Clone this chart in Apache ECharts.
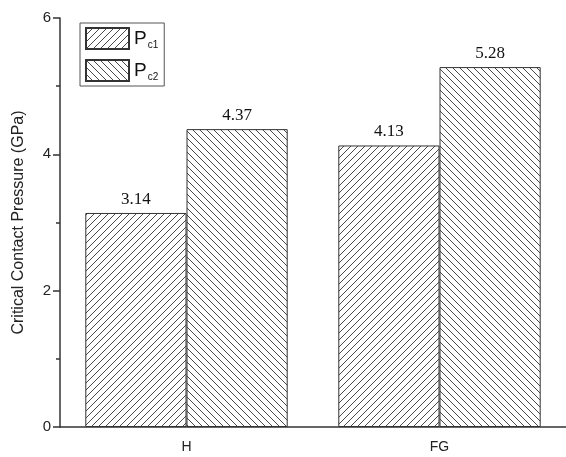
<!DOCTYPE html>
<html>
<head>
<meta charset="utf-8">
<script src="https://cdn.jsdelivr.net/npm/echarts@6/dist/echarts.min.js"></script>
<style>
  html, body { margin: 0; padding: 0; background: #fff; }
  #chart { width: 566px; height: 457px; }
</style>
</head>
<body>
<div id="chart"></div>
<script>
const categories = ['H', 'FG'];
const seriesNames = ['Pc1', 'Pc2'];
const pc1 = [3.14, 4.13];
const pc2 = [4.37, 5.28];
const yTicks = [0, 2, 4, 6];

// diagonal hatch tile, dir 1 = "/", dir -1 = "\"
function hatch(dir) {
    const s = 7;
    const c = document.createElement('canvas');
    c.width = s; c.height = s;
    const g = c.getContext('2d');
    g.fillStyle = '#fff';
    g.fillRect(0, 0, s, s);
    g.strokeStyle = '#4a4a4a';
    g.lineWidth = 1;
    g.beginPath();
    if (dir > 0) {
        g.moveTo(-1, s + 1); g.lineTo(s + 1, -1);
        g.moveTo(-1, 1); g.lineTo(1, -1);
        g.moveTo(s - 1, s + 1); g.lineTo(s + 1, s - 1);
    } else {
        g.moveTo(-1, -1); g.lineTo(s + 1, s + 1);
        g.moveTo(s - 1, -1); g.lineTo(s + 1, 1);
        g.moveTo(-1, s - 1); g.lineTo(1, s + 1);
    }
    g.stroke();
    return { image: c, repeat: 'repeat' };
}

const axisColor = '#333';
const sans = 'Liberation Sans';
const serif = 'Liberation Serif';

const chart = echarts.init(document.getElementById('chart'));

function barSeries(name, data, dir) {
    return {
        name: name,
        type: 'bar',
        data: data,
        barGap: '0%',
        barCategoryGap: '20%',
        itemStyle: {
            color: hatch(dir),
            borderColor: '#333',
            borderWidth: 1
        },
        label: {
            show: true,
            position: 'top',
            distance: 5,
            color: '#111',
            fontFamily: serif,
            fontSize: 17,
            formatter: p => p.value.toFixed(2)
        },
        emphasis: { disabled: true }
    };
}

chart.setOption({
    backgroundColor: '#fff',
    animation: false,
    grid: { left: 60, right: -2, top: 18, bottom: 30 },
    legend: {
        orient: 'vertical',
        left: 80,
        top: 23,
        padding: [4, 6, 4, 5],
        icon: 'rect',
        itemWidth: 43,
        itemHeight: 21,
        itemGap: 9,
        borderColor: '#555',
        borderWidth: 1,
        data: seriesNames,
        formatter: n => '{p|P}{s|' + n.slice(1) + '}',
        textStyle: {
            rich: {
                p: { fontFamily: sans, fontSize: 19, color: '#111' },
                s: { fontFamily: sans, fontSize: 10, color: '#111', padding: [13, 0, 0, 1] }
            }
        }
    },
    xAxis: [
        {
            type: 'category',
            data: categories,
            axisLine: { lineStyle: { color: axisColor, width: 1.5 } },
            axisTick: { alignWithLabel: true, length: 8, lineStyle: { color: axisColor, width: 1.5 } },
            axisLabel: { color: '#222', fontFamily: sans, fontSize: 14, margin: 13 },
            splitLine: { show: false }
        },
        {
            type: 'category',
            data: categories,
            position: 'bottom',
            axisLine: { show: false },
            axisTick: { length: 3, lineStyle: { color: axisColor, width: 1.5 } },
            axisLabel: { show: false },
            splitLine: { show: false }
        }
    ],
    yAxis: {
        type: 'value',
        min: yTicks[0],
        max: yTicks[yTicks.length - 1],
        interval: 2,
        name: 'Critical Contact Pressure (GPa)',
        nameLocation: 'middle',
        nameGap: 33,
        nameTextStyle: { color: '#222', fontFamily: sans, fontSize: 16 },
        axisLine: { show: true, lineStyle: { color: axisColor, width: 1.5 } },
        axisTick: { show: true, length: 7, lineStyle: { color: axisColor, width: 1.5 } },
        minorTick: { show: true, splitNumber: 2, length: 4, lineStyle: { color: axisColor, width: 1.5 } },
        axisLabel: { color: '#222', fontFamily: sans, fontSize: 15, margin: 9 },
        splitLine: { show: false }
    },
    series: [
        barSeries(seriesNames[0], pc1, 1),
        barSeries(seriesNames[1], pc2, -1)
    ]
});
</script>
</body>
</html>
